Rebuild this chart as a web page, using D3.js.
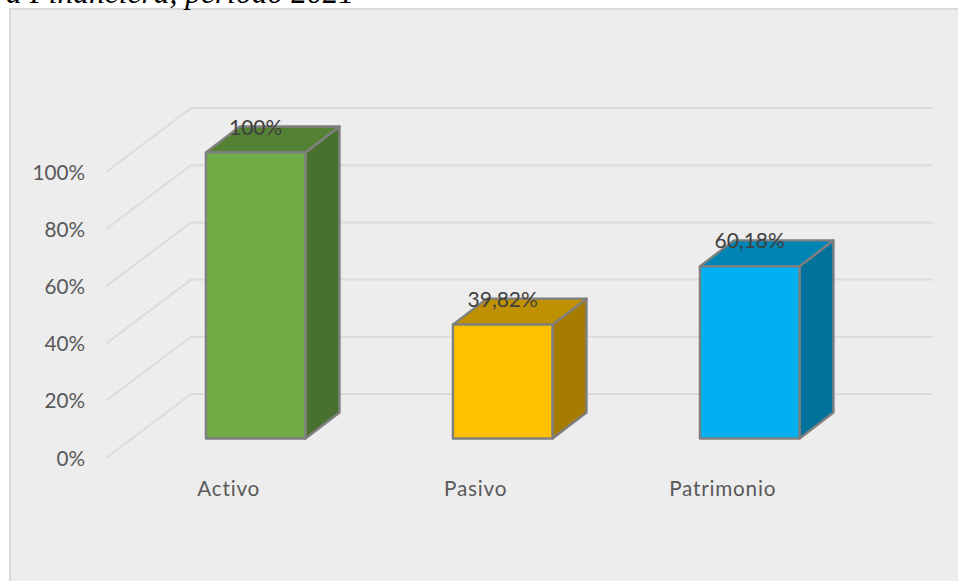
<!DOCTYPE html>
<html><head><meta charset="utf-8">
<script src="https://cdn.jsdelivr.net/npm/d3@7/dist/d3.min.js"></script>
<style>html,body{margin:0;padding:0;background:#fff;overflow:hidden}svg{display:block}</style>
</head><body><svg id="c" width="958" height="581"></svg>
<script>
const categories = ["Activo", "Pasivo", "Patrimonio"];
const values = [100, 39.82, 60.18];
const valueLabels = ["100%", "39,82%", "60,18%"];
const frontColors = ["#70ad47", "#ffc000", "#00b0f0"];
const topColors = ["#548235", "#bf9000", "#0084b4"];
const sideColors = ["#48702e", "#a67c00", "#00729c"];
const ticks = [0, 20, 40, 60, 80, 100];
const heading = "a Financiera, período 2021";

const W = 958, H = 581;
const svg = d3.select("#c");
const baseY = 438.5, depthX = 34, depthY = -26;
const y = d3.scaleLinear().domain([0, 100]).range([baseY, baseY - 286]);
const x = d3.scaleBand().domain(categories).range([132.2, 873.2]).paddingInner(0.597).paddingOuter(0.2985);

svg.append("rect").attr("x", 10).attr("y", 9).attr("width", W).attr("height", H)
  .attr("fill", "#ededed").attr("stroke", "#dadada").attr("stroke-width", 2);

svg.append("text").attr("x", 6).attr("y", 3)
  .attr("font-family", "Liberation Serif").attr("font-style", "italic").attr("font-size", 31.5)
  .attr("fill", "#000").text(heading);

// gridlines: floor-to-wall bend
const gridFront = 106, gridBack = 191, gridRight = 933, gridFrontDy = 19.5, gridBackDy = -44.5;
const grid = svg.append("g");
grid.selectAll("path").data(ticks).join("path")
  .attr("fill", "none").attr("stroke", "#dcdcdc").attr("stroke-width", 2)
  .attr("d", d => d3.line()([[gridFront, y(d) + gridFrontDy], [gridBack, y(d) + gridBackDy], [gridRight, y(d) + gridBackDy]]));

// value axis
const axisScale = y.copy().range([baseY + gridFrontDy + 0.5, baseY + gridFrontDy - 285.5]);
const axis = svg.append("g").attr("transform", "translate(85,0)")
  .call(d3.axisLeft(axisScale).tickValues(ticks).tickSize(0).tickPadding(0).tickFormat(d => d + "%"));
axis.select(".domain").remove();
axis.selectAll("text").attr("font-family", "Lato").attr("font-size", 20.7).attr("fill", "#595959");

// bars
const bars = svg.append("g").selectAll("g").data(categories).join("g");
const stroke = s => s.attr("stroke", "#7f7f7f").attr("stroke-width", 2.4).attr("stroke-linejoin", "round");
bars.append("path").call(stroke).attr("fill", (d, i) => sideColors[i])
  .attr("d", (d, i) => {
    const r = x(d) + x.bandwidth(), t = y(values[i]);
    return d3.line()([[r, t], [r + depthX, t + depthY], [r + depthX, baseY + depthY], [r, baseY]]) + "Z";
  });
bars.append("path").call(stroke).attr("fill", (d, i) => topColors[i])
  .attr("d", (d, i) => {
    const l = x(d), r = l + x.bandwidth(), t = y(values[i]);
    return d3.line()([[l, t], [l + depthX, t + depthY], [r + depthX, t + depthY], [r, t]]) + "Z";
  });
bars.append("rect").call(stroke).attr("fill", (d, i) => frontColors[i])
  .attr("x", d => x(d)).attr("width", x.bandwidth())
  .attr("y", (d, i) => y(values[i])).attr("height", (d, i) => baseY - y(values[i]));

// data labels
bars.append("text").attr("text-anchor", "middle")
  .attr("x", d => x(d) + x.bandwidth() / 2).attr("y", (d, i) => y(values[i]) - 18)
  .attr("font-family", "Lato").attr("font-size", 21).attr("fill", "#404040")
  .text((d, i) => valueLabels[i]);

// category labels
bars.append("text").attr("text-anchor", "middle")
  .attr("x", d => x(d) + x.bandwidth() / 2 - 27).attr("y", 496)
  .attr("font-family", "Lato").attr("font-size", 20.7).attr("letter-spacing", 0.8).attr("fill", "#595959")
  .text(d => d);
</script></body></html>
